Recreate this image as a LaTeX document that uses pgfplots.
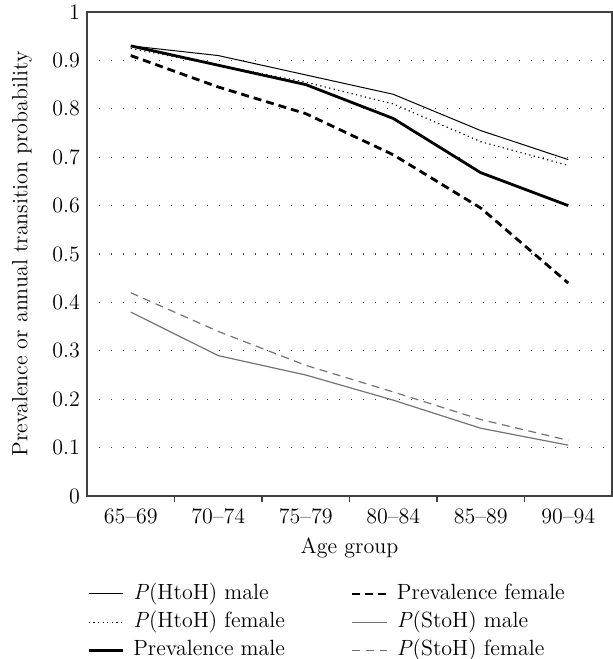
\documentclass[border=0pt]{standalone}
\usepackage{pgfplots}
\pgfplotsset{compat=1.18}

\pgfplotstableread{
x hhm hhf prm prf shm shf
0 0.930 0.925 0.930 0.910 0.380 0.420
1 0.910 0.890 0.890 0.845 0.290 0.340
2 0.870 0.855 0.850 0.790 0.250 0.270
3 0.830 0.810 0.780 0.705 0.198 0.215
4 0.755 0.732 0.668 0.595 0.140 0.158
5 0.695 0.683 0.600 0.440 0.105 0.115
}\datatable

\begin{document}
\begin{tikzpicture}
\begin{axis}[
  scale only axis,
  width=262.5pt, height=242pt,
  font=\fontsize{11}{13}\selectfont,
  xmin=-0.5, xmax=5.5,
  ymin=0, ymax=1,
  xtick={0,...,5},
  xticklabels={65--69,70--74,75--79,80--84,85--89,90--94},
  minor xtick={0.5,1.5,...,4.5},
  ytick={0,0.1,...,1},
  yticklabels={0,0.1,0.2,0.3,0.4,0.5,0.6,0.7,0.8,0.9,1},
  tick pos=left,
  tick align=outside,
  major tick length=0pt,
  minor tick length=3pt,
  every tick/.style={black!75, line width=0.6pt},
  /pgf/number format/assume math mode=true,
  xticklabel style={yshift=-3pt},
  axis line style={black!75, line width=0.6pt},
  ymajorgrids,
  grid style={black!75, line width=0.6pt, dash pattern=on 0.6pt off 5.4pt},
  xlabel={Age group},
  ylabel={Prevalence or annual transition probability},
  xlabel style={at={(axis description cs:0.5,0)}, anchor=center, yshift=-26pt},
  ylabel style={at={(axis description cs:-0.124,0.5)}, anchor=center},
  legend columns=2,
  legend cell align=left,
  legend style={
    draw=none, fill=none, inner sep=0pt,
    font=\fontsize{11}{13}\selectfont,
    at={(axis description cs:0,0)}, anchor=north west,
    yshift=-43.5pt,
    nodes={inner sep=0pt, text height=8pt, text depth=2.5pt},
    /tikz/every odd column/.append style={column sep=4.5pt},
    /tikz/every even column/.append style={column sep=33pt},
    row sep=3.6pt,
  },
  extra description/.code={
    \draw[black!75, line width=1.1pt] (rel axis cs:0,1) -- (rel axis cs:0,0) -- (rel axis cs:1,0);
  },
]
\addplot[black, line width=0.5pt] table[x=x, y=hhm] {\datatable};
\addlegendentry{\textit{P}(HtoH) male}
\addplot[black, line width=1.4pt, dash pattern=on 4pt off 2.5pt] table[x=x, y=prf] {\datatable};
\addlegendentry{Prevalence female}
\addplot[black, line width=0.6pt, dash pattern=on 0.6pt off 1.7pt] table[x=x, y=hhf] {\datatable};
\addlegendentry{\textit{P}(HtoH) female}
\addplot[black!55, line width=0.6pt] table[x=x, y=shm] {\datatable};
\addlegendentry{\textit{P}(StoH) male}
\addplot[black, line width=1.4pt] table[x=x, y=prm] {\datatable};
\addlegendentry{Prevalence male}
\addplot[black!55, line width=0.6pt, dash pattern=on 4pt off 2.8pt] table[x=x, y=shf] {\datatable};
\addlegendentry{\textit{P}(StoH) female}
\end{axis}
\pgfresetboundingbox
\useasboundingbox (-43.5pt,-81.5pt) rectangle (263pt,248pt);
\end{tikzpicture}
\end{document}
